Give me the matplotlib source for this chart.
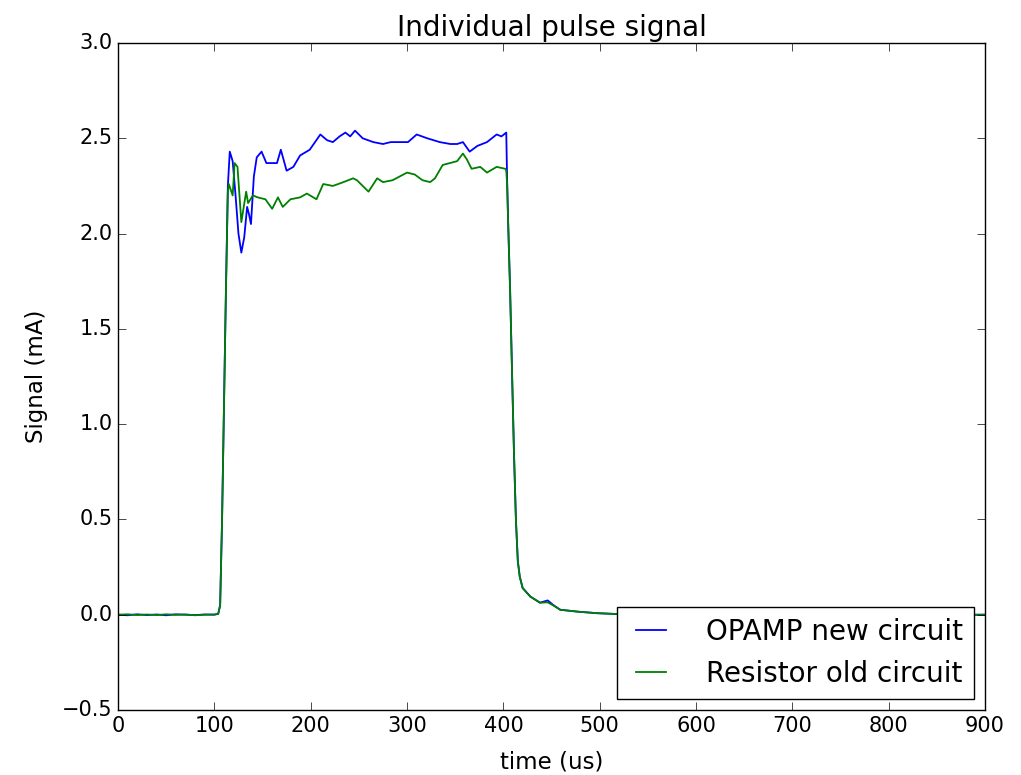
import matplotlib
matplotlib.use("Agg")
import matplotlib.pyplot as plt

plt.style.use('classic')

# ---- data ----
t_blue = [0, 10, 20, 30, 40, 50, 60, 70, 80, 90, 100, 104, 106, 108, 110, 112, 114, 116,
          119, 122, 125, 128, 131, 134, 136, 138, 141, 144, 149, 154, 160, 165, 169, 175,
          182, 189, 199, 210, 217, 223, 230, 236, 241, 246, 254, 265, 275, 283, 290, 301,
          310, 321, 334, 345, 352, 358, 365, 373, 383, 393, 398, 403, 404, 405, 407, 409,
          411, 413, 415, 417, 420, 428, 438, 446, 452, 459, 477, 497, 520, 550, 600, 650,
          700, 750, 800, 850, 900]
v_blue = [0.0, -0.003, 0.002, -0.002, 0.001, -0.003, 0.002, 0.0, -0.002, 0.001, 0.0, 0.005,
          0.05, 0.5, 1.1, 1.7, 2.25, 2.43, 2.38, 2.2, 2.0, 1.90, 1.98, 2.14, 2.10, 2.05, 2.30,
          2.40, 2.43, 2.37, 2.37, 2.37, 2.44, 2.33, 2.35, 2.41, 2.44, 2.52, 2.49, 2.48, 2.51,
          2.53, 2.51, 2.54, 2.50, 2.48, 2.47, 2.48, 2.48, 2.48, 2.52, 2.50, 2.48, 2.47, 2.47,
          2.48, 2.43, 2.46, 2.48, 2.52, 2.51, 2.53, 2.25, 2.05, 1.70, 1.27, 0.85, 0.50, 0.28,
          0.20, 0.14, 0.095, 0.063, 0.075, 0.05, 0.026, 0.016, 0.008, 0.003, 0.0, -0.002,
          0.001, -0.001, 0.0, 0.001, -0.002, 0.0]

t_green = [0, 10, 20, 30, 40, 50, 60, 70, 80, 90, 100, 104, 106, 108, 110, 112, 114, 115,
           119, 121, 124, 128, 133, 135, 140, 145, 153, 160, 166, 171, 179, 189, 196, 206,
           213, 223, 234, 244, 248, 260, 269, 275, 285, 300, 308, 316, 324, 329, 337, 352,
           358, 362, 367, 376, 383, 393, 402, 403, 404, 405, 407, 409, 411, 413, 415, 417,
           420, 428, 438, 446, 452, 459, 477, 497, 520, 550, 600, 650, 700, 750, 800, 850, 900]
v_green = [0.0, 0.002, -0.002, 0.001, -0.002, 0.002, -0.001, 0.001, -0.003, 0.0, 0.001, 0.004,
           0.05, 0.5, 1.1, 1.7, 2.22, 2.26, 2.20, 2.37, 2.35, 2.06, 2.22, 2.16, 2.20, 2.19,
           2.18, 2.13, 2.19, 2.14, 2.18, 2.19, 2.21, 2.18, 2.26, 2.25, 2.27, 2.29, 2.28, 2.22,
           2.29, 2.27, 2.28, 2.32, 2.31, 2.28, 2.27, 2.29, 2.36, 2.38, 2.42, 2.39, 2.34, 2.35,
           2.32, 2.35, 2.34, 2.33, 2.25, 2.05, 1.70, 1.27, 0.85, 0.50, 0.28, 0.20, 0.14, 0.095,
           0.063, 0.065, 0.048, 0.026, 0.016, 0.008, 0.003, 0.001, -0.001, 0.002, 0.0, -0.001,
           0.001, 0.0, 0.0]

labels = ["OPAMP new circuit", "Resistor old circuit"]
title = "Individual pulse signal"
xlabel = "time (us)"
ylabel = "Signal (mA)"

plt.rcParams['font.size'] = 15

fig = plt.figure(figsize=(10.21, 7.75), dpi=100, facecolor='white')
ax = fig.add_axes([0.1156, 0.0839, 0.8492, 0.8606])
ax.plot(t_blue, v_blue, color='b', lw=1.3, label=labels[0])
ax.plot(t_green, v_green, color='g', lw=1.3, label=labels[1])
ax.set_xlim(0, 900)
ax.set_ylim(-0.5, 3.0)
ax.set_title(title, fontsize=20)
ax.set_xlabel(xlabel, fontsize=16.5, labelpad=11)
ax.set_ylabel(ylabel, fontsize=16.5, labelpad=10)
ax.tick_params(direction='in', length=6, top=True, right=True, labelsize=15)
leg = ax.legend(loc='lower right', fontsize=20, fancybox=False, frameon=True,
                borderaxespad=0.4, handlelength=1.65, handletextpad=1.15)
leg.get_frame().set_edgecolor('black')
fig.savefig('out.png', dpi=100, facecolor='white')
